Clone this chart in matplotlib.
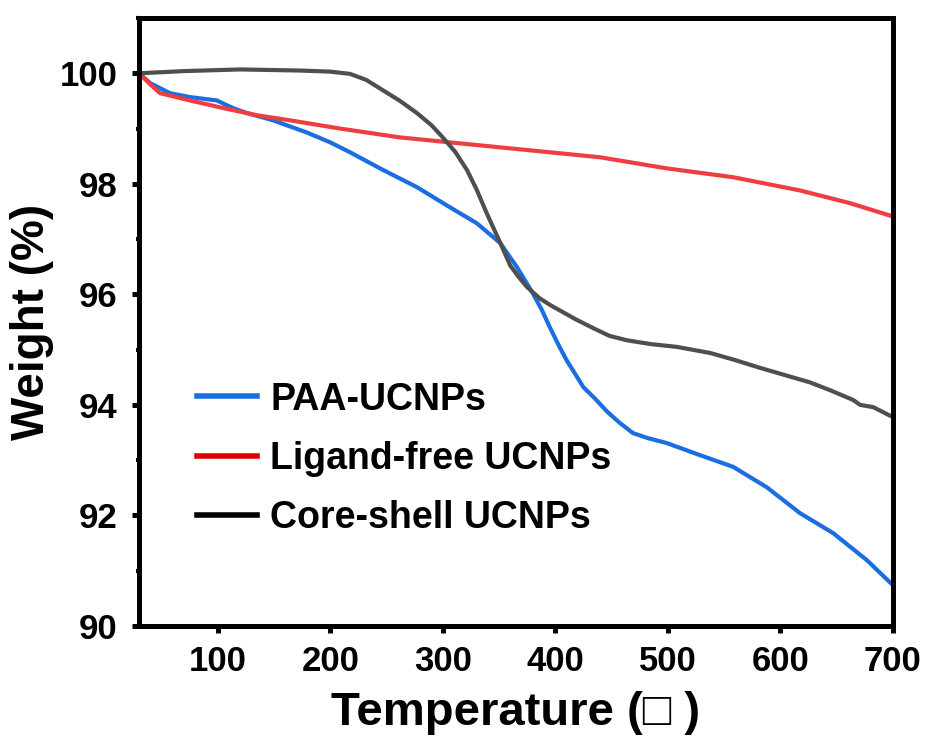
import numpy as np
import matplotlib
matplotlib.use('Agg')
import matplotlib.pyplot as plt
from matplotlib.lines import Line2D
from matplotlib.ticker import MultipleLocator

# TGA curves
paa_temp = [30, 40, 57.6, 75, 99, 113.6, 126, 149, 179, 200, 217.6, 247, 277, 306, 330,
            351, 366, 380, 388, 395, 403, 410, 418, 425, 435, 446, 457, 469, 482, 499,
            528.7, 558, 588, 617.6, 647, 677, 700]
paa_weight = [100.0, 99.82, 99.64, 99.57, 99.51, 99.37, 99.28, 99.15, 98.93, 98.75, 98.57,
              98.25, 97.94, 97.58, 97.29, 96.93, 96.49, 96.02, 95.72, 95.41, 95.08, 94.81,
              94.55, 94.32, 94.12, 93.88, 93.68, 93.49, 93.40, 93.31, 93.09, 92.88, 92.51,
              92.04, 91.68, 91.19, 90.74]

free_temp = [30, 40, 48.7, 75, 105, 135, 164, 208.7, 262, 351, 440, 499, 558, 617.6, 662, 700]
free_weight = [100.0, 99.8, 99.64, 99.51, 99.37, 99.24, 99.15, 99.0, 98.84, 98.66, 98.48,
               98.28, 98.12, 97.88, 97.65, 97.41]

core_temp = [30, 70, 120, 173, 200, 217.5, 232, 247, 262, 277, 290, 300, 311, 321.5, 330,
             339, 350, 360, 368, 375, 386, 396, 404, 418, 433.6, 448, 463.5, 485, 508,
             537.6, 560, 582, 604, 626, 645, 664.7, 671, 682.5, 700]
core_weight = [100.0, 100.04, 100.07, 100.05, 100.03, 99.99, 99.88, 99.69, 99.50, 99.28,
               99.06, 98.84, 98.58, 98.25, 97.90, 97.47, 96.98, 96.52, 96.30, 96.13, 95.93,
               95.80, 95.71, 95.55, 95.39, 95.25, 95.17, 95.10, 95.05, 94.94, 94.81, 94.67,
               94.54, 94.41, 94.26, 94.09, 94.0, 93.96, 93.78]

labels = ['PAA-UCNPs', 'Ligand-free UCNPs', 'Core-shell UCNPs']
line_colors = ['#1a6ee0', '#ef3e42', '#4f4f4f']
legend_colors = ['#1a6ee0', '#e00000', '#000000']

plt.rcParams['font.family'] = ['Liberation Sans', 'DejaVu Sans']
plt.rcParams['font.weight'] = 'bold'

fig = plt.figure(figsize=(9.3, 7.36), dpi=100)
ax = fig.add_axes([0.1495, 0.1495, 0.8105, 0.826])

ax.plot(paa_temp, paa_weight, color=line_colors[0], lw=3)
ax.plot(free_temp, free_weight, color=line_colors[1], lw=3)
ax.plot(core_temp, core_weight, color=line_colors[2], lw=3)

ax.set_xlim(30, 700)
ax.set_ylim(90, 101)
ax.xaxis.set_major_locator(MultipleLocator(100))
ax.xaxis.set_minor_locator(MultipleLocator(50))
ax.yaxis.set_major_locator(MultipleLocator(2))
ax.yaxis.set_minor_locator(MultipleLocator(1))

for sp in ax.spines.values():
    sp.set_linewidth(3.6)
ax.tick_params(which='major', direction='out', length=5, width=3.6, labelsize=25)
ax.tick_params(axis='y', which='major', pad=10.5)
ax.tick_params(axis='x', which='major', pad=9)
ax.tick_params(which='minor', direction='out', length=2.5, width=3)
ax.tick_params(top=False, right=False)
for lab in ax.get_xticklabels() + ax.get_yticklabels():
    lab.set_fontweight('bold')

ax.set_xlabel('Temperature (\u25a1 )', fontsize=34, fontweight='bold', labelpad=9)
ax.set_ylabel('Weight (%)', fontsize=33, fontweight='bold', labelpad=4)

handles = [Line2D([], [], color=c, lw=4) for c in legend_colors]
ax.legend(handles, labels, loc='center left', bbox_to_anchor=(0.052, 0.275), frameon=False,
          borderpad=0, prop={'size': 27, 'weight': 'bold'}, handlelength=1.6,
          handletextpad=0.35, labelspacing=0.62)

fig.savefig('out.png', dpi=100)
